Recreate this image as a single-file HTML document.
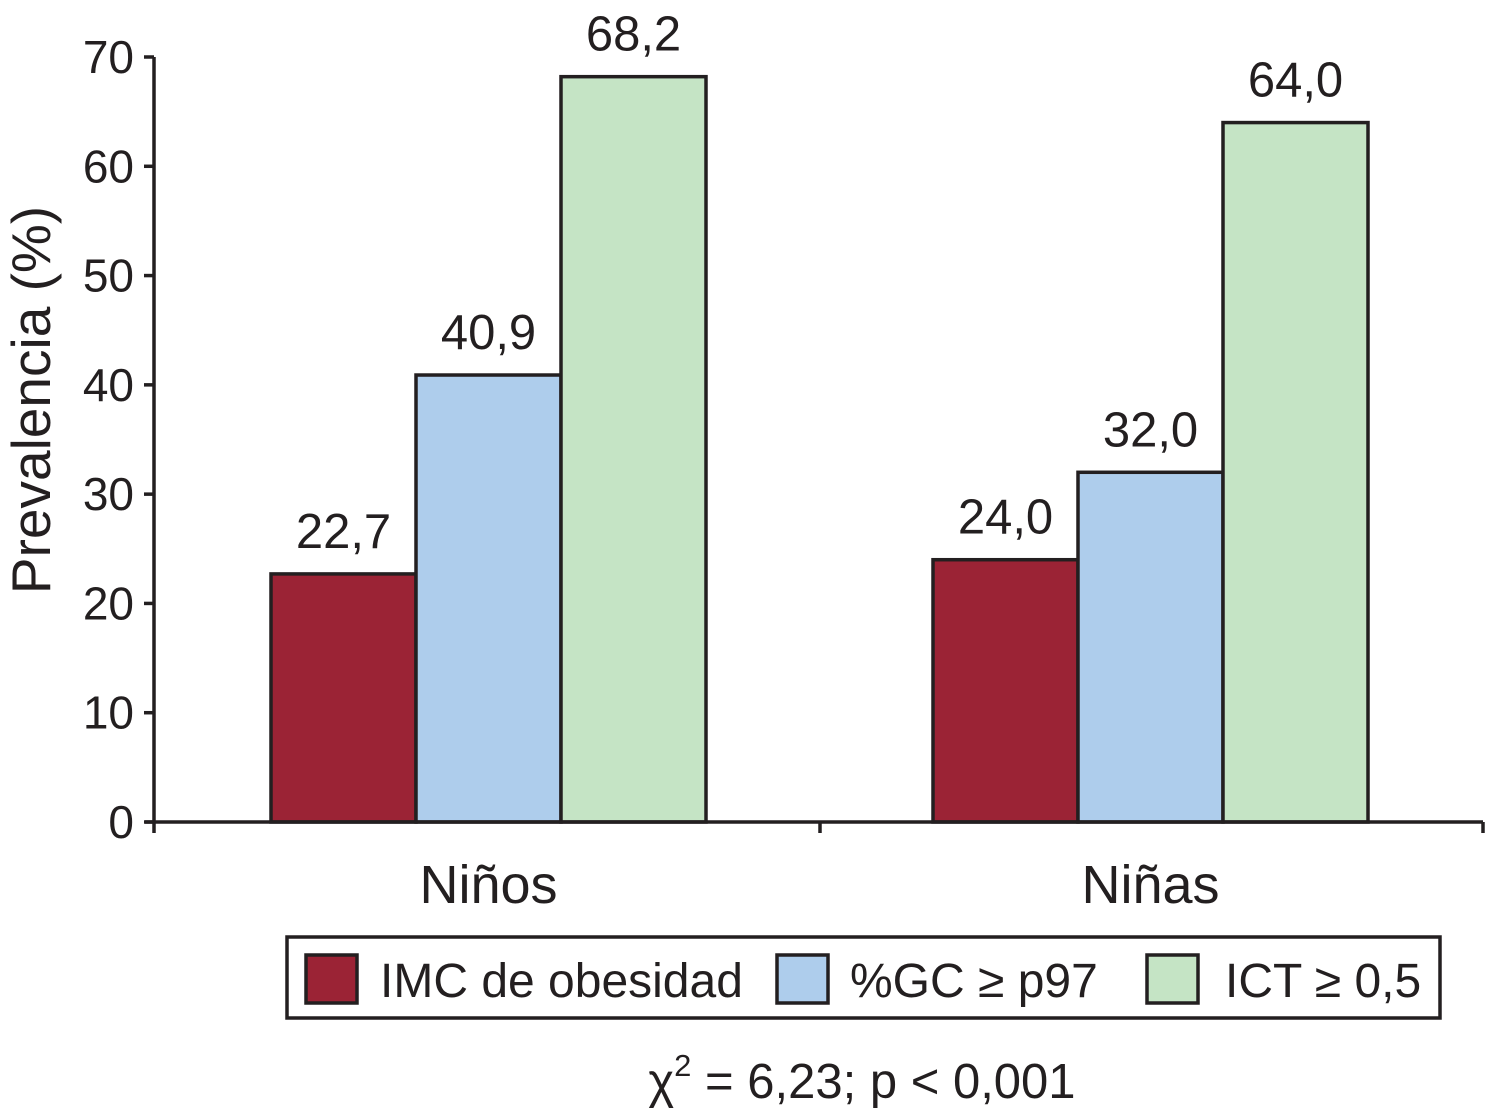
<!DOCTYPE html>
<html><head><meta charset="utf-8"><style>
html,body{margin:0;padding:0;background:#fff;}
svg{display:block;font-family:"Liberation Sans",Arial,sans-serif;}
</style></head><body>
<svg id="chart" width="1486" height="1111" viewBox="0 0 1486 1111"></svg>
<script>
const categories = ["Niños", "Niñas"];
const seriesNames = ["IMC de obesidad", "%GC ≥ p97", "ICT ≥ 0,5"];
const imcValues = [22.7, 24.0];
const gcValues = [40.9, 32.0];
const ictValues = [68.2, 64.0];
const valueLabels = [["22,7","24,0"],["40,9","32,0"],["68,2","64,0"]];
const yTicks = [0,10,20,30,40,50,60,70];

const NS = "http://www.w3.org/2000/svg";
const svg = document.getElementById("chart");
const colors = ["#9b2335","#aecdec","#c5e4c5"];
const x0 = 154, x1 = 1483, yBase = 822, yTop = 57, yMax = 70;
function yScale(v){ return yBase - v/yMax*(yBase-yTop); }
const barW = 145;
function mk(tag, attrs, parent){
  const e = document.createElementNS(NS, tag);
  for (const k in attrs) e.setAttribute(k, attrs[k]);
  (parent||svg).appendChild(e); return e;
}
const allSeries = [imcValues, gcValues, ictValues];
allSeries.forEach((vals, s) => {
  vals.forEach((v, i) => {
    const bx = (i===0 ? 271 : 933) + s*barW;
    const r = mk("rect", {x: bx, y: yScale(v), width: barW, height: yBase - yScale(v), fill: colors[s], stroke: "#231f20", "stroke-width": 3.5});
    
    
    const t = mk("text", {x: bx + barW/2, y: yScale(v) - 26, "text-anchor": "middle", "font-size": 49, fill: "#231f20"});
    t.textContent = valueLabels[s][i];
    
    
  });
});
const yAxis = mk("line", {x1: x0, y1: yTop, x2: x0, y2: yBase, stroke: "#231f20", "stroke-width": 3.5});


const xAxis = mk("line", {x1: x0-9, y1: yBase, x2: x1, y2: yBase, stroke: "#231f20", "stroke-width": 3.5});


yTicks.forEach(v => {
  const y = yScale(v);
  mk("line", {x1: x0-10, y1: y, x2: x0, y2: y, stroke: "#231f20", "stroke-width": 3.5});
  const t = mk("text", {x: 134, y: y + 16, "text-anchor": "end", "font-size": 46, fill: "#231f20"});
  t.textContent = v;
  
  
});
[x0, 820, x1].forEach(x => mk("line", {x1: x, y1: yBase, x2: x, y2: yBase+11, stroke: "#231f20", "stroke-width": 3.5}));
categories.forEach((c, i) => {
  const cx = (i===0 ? 271 : 933) + barW*1.5;
  const t = mk("text", {x: cx, y: 903, "text-anchor": "middle", "font-size": 54, fill: "#231f20"});
  t.textContent = c;
  
  
});
const yt = mk("text", {x: 0, y: 0, transform: "translate(50,400) rotate(-90)", "text-anchor": "middle", "font-size": 55, fill: "#231f20"});
yt.textContent = "Prevalencia (%)";


const lg = mk("g", {});


mk("rect", {x: 287, y: 937, width: 1153, height: 81, fill: "none", stroke: "#231f20", "stroke-width": 3.5}, lg);
const swX = [306, 777, 1147], txX = [380, 850, 1225];
seriesNames.forEach((n, s) => {
  const sw = mk("rect", {x: swX[s], y: 955, width: 51, height: 48, fill: colors[s], stroke: "#231f20", "stroke-width": 3.5}, lg);
  
  
  const t = mk("text", {x: txX[s], y: 997, "font-size": 48, fill: "#231f20"}, lg);
  t.textContent = n;
  
  
});
const chi = mk("text", {x: 862, y: 1098, "text-anchor": "middle", "font-size": 49, fill: "#231f20"});
chi.innerHTML = 'χ<tspan dy="-22" font-size="31">2</tspan><tspan dy="22"> = 6,23; p &lt; 0,001</tspan>';


</script>
</body></html>
